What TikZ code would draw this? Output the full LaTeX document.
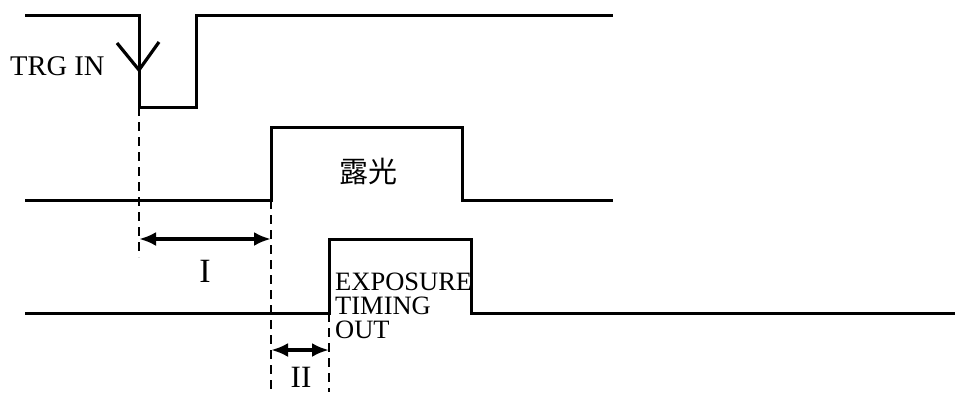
\documentclass[tikz,border=0pt]{standalone}
\usepackage{fontspec}
\setmainfont{Liberation Serif}
\newfontfamily\cjkfont{Noto Sans CJK JP}
\usetikzlibrary{arrows.meta}
\begin{document}
\begin{tikzpicture}[x=1pt,y=-1pt,
  wave/.style={line width=3pt, line join=miter},
  guide/.style={line width=2.8pt, dash pattern=on 9pt off 6pt},
  span/.style={line width=3.6pt, {Latex[length=17pt,width=14pt]}-{Latex[length=17pt,width=14pt]}},
  lbl/.style={inner sep=0pt, font=\fontsize{26.5}{24}\selectfont},
  numl/.style={inner sep=0pt, font=\fontsize{34}{34}\selectfont}]
\useasboundingbox (0,0) rectangle (964,392);
% waveforms
\draw[wave] (25,15) -- (139,15) -- (139,107) -- (196,107) -- (196,15) -- (613,15);
\draw[wave] (25,200) -- (271,200) -- (271,127) -- (462,127) -- (462,200) -- (613,200);
\draw[wave] (25,313) -- (329,313) -- (329,239) -- (471,239) -- (471,313) -- (955,313);
% trigger mark
\draw[line width=3.2pt] (117,43) -- (139,70) -- (159,42);
% guide lines
\coordinate (g1t) at (139,107); \coordinate (g1b) at (139,257);
\coordinate (g2t) at (271,200); \coordinate (g2b) at (271,392);
\coordinate (g3t) at (329,313); \coordinate (g3b) at (329,392);
\draw[guide] (g1t) -- (g1b);
\draw[guide] (g2t) -- (g2b);
\draw[guide] (g3t) -- (g3b);
% spans
\coordinate (a1) at (139,239); \coordinate (a2) at (271,239);
\coordinate (b1) at (271,350); \coordinate (b2) at (329,350);
\draw[span] (a1) -- (a2);
\draw[span] (b1) -- (b2);
% labels
\node[inner sep=0pt, anchor=base west, font=\fontsize{28.5}{28}\selectfont] (trg) at (10,75) {TRG IN};
\node[inner sep=0pt, font=\cjkfont\fontsize{29}{29}\selectfont] (exp) at (368,171) {露光};
\node[lbl, anchor=north west, align=left] (eto) at (335,273) {EXPOSURE\\TIMING\\OUT};
\node[numl] (one) at (205,271) {I};
\node[numl, font=\fontsize{31}{31}\selectfont] (two) at (301,377) {II};
\end{tikzpicture}
\end{document}
